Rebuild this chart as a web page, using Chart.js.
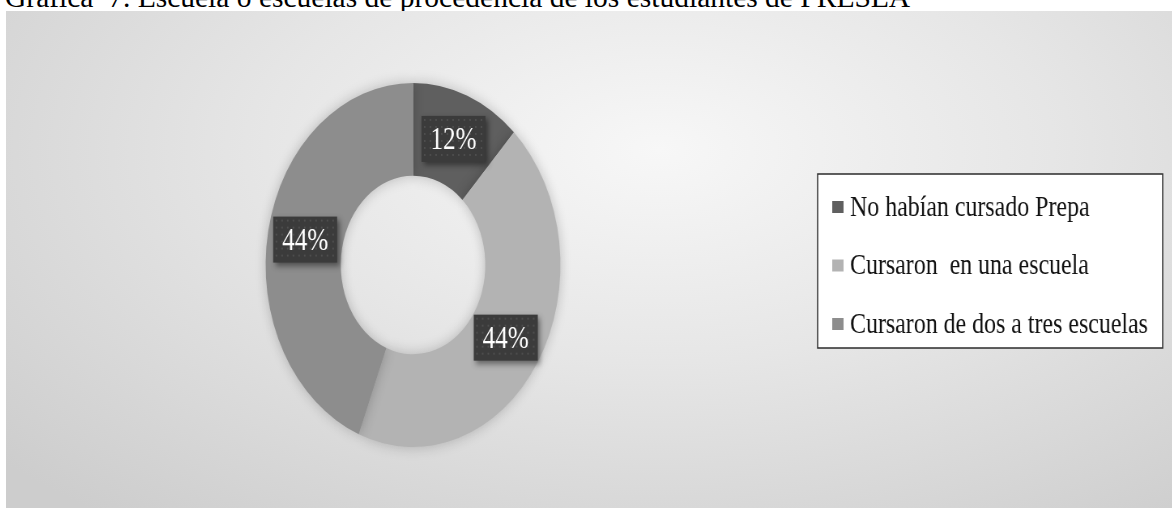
<!DOCTYPE html>
<html>
<head>
<meta charset="utf-8">
<script src="https://cdn.jsdelivr.net/npm/chart.js@4"></script>
<style>
  body { margin: 0; background: #fff; width: 1172px; height: 508px; overflow: hidden; position: relative; }
  #titulo {
    position: absolute; left: 5px; top: -17px; line-height: 1;
    font-family: "Liberation Serif", "Times New Roman", serif; font-size: 29.5px;
    color: #000; white-space: pre;
  }
  #fondo {
    position: absolute; left: 6px; top: 11px; width: 1166px; height: 497px; overflow: hidden;
    background: radial-gradient(ellipse 75% 95% at 56% 28%, #f7f7f7 0%, #e6e6e6 45%, #cdcdcd 100%);
  }
  /* la grafica original esta comprimida a lo ancho, por eso el scaleX */
  #caja {
    position: absolute; left: 0; top: 0; width: 1440px; height: 497px;
    transform: scaleX(0.81); transform-origin: 0 0;
  }
</style>
</head>
<body>
<div id="titulo">Grafica  7. Escuela o escuelas de procedencia de los estudiantes de PRESEA</div>
<div id="fondo">
  <div id="caja"><canvas id="dona"></canvas></div>
</div>

<script>
// ------------- Datos de la grafica -------------
const categorias = ['No habían cursado Prepa', 'Cursaron  en una escuela', 'Cursaron de dos a tres escuelas'];
const porcentajes = [12, 44, 44];
const colores = ['#5f5f5f', '#b3b3b3', '#8d8d8d'];

const fuente = '"Liberation Serif", "Times New Roman", serif';

// Plugin para las etiquetas oscuras con el porcentaje
const etiquetasPlugin = {
  id: 'etiquetas',
  afterDatasetsDraw(chart) {
    const ctx = chart.ctx;
    const meta = chart.getDatasetMeta(0);
    meta.data.forEach((arco, i) => {
      const pos = arco.tooltipPosition();
      const w = 79, h = 46;
      const x0 = pos.x - w / 2, y0 = pos.y - h / 2;

      ctx.save();
      ctx.shadowColor = 'rgba(0,0,0,0.45)';
      ctx.shadowBlur = 6;
      ctx.shadowOffsetX = 3;
      ctx.shadowOffsetY = 3;
      ctx.fillStyle = '#3b3b3b';
      ctx.fillRect(x0, y0, w, h);
      ctx.restore();

      // puntitos de la textura
      ctx.fillStyle = 'rgba(255,255,255,0.10)';
      for (let x = x0 + 3; x < x0 + w - 1; x += 7) {
        for (let y = y0 + 3; y < y0 + h - 1; y += 7) {
          ctx.fillRect(x, y, 2, 2);
        }
      }

      ctx.fillStyle = '#ffffff';
      ctx.font = '31px ' + fuente;
      ctx.textAlign = 'center';
      ctx.textBaseline = 'middle';
      ctx.fillText(porcentajes[i] + '%', pos.x, pos.y + 2);
    });
  }
};

// Plugin para la leyenda con recuadro blanco
const leyendaPlugin = {
  id: 'leyendaCaja',
  afterDraw(chart) {
    const ctx = chart.ctx;
    const bx = 1002, by = 163, bw = 426, bh = 174;
    ctx.save();
    ctx.fillStyle = '#ffffff';
    ctx.fillRect(bx, by, bw, bh);
    ctx.strokeStyle = '#2b2b2b';
    ctx.lineWidth = 1.5;
    ctx.strokeRect(bx, by, bw, bh);

    ctx.font = '29.5px ' + fuente;
    ctx.textAlign = 'left';
    ctx.textBaseline = 'middle';
    const fondoColores = chart.data.datasets[0].backgroundColor;
    chart.data.labels.forEach((txt, i) => {
      const cy = by + 34 + i * 58.5;
      ctx.fillStyle = fondoColores[i];
      ctx.fillRect(bx + 18, cy - 7, 14, 12);
      ctx.fillStyle = '#111111';
      ctx.fillText(txt, bx + 40, cy);
    });
    ctx.restore();
  }
};

// Sombra suave alrededor de la dona
const sombraPlugin = {
  id: 'sombra',
  beforeDatasetsDraw(chart) {
    chart.ctx.save();
    chart.ctx.shadowColor = 'rgba(0,0,0,0.22)';
    chart.ctx.shadowBlur = 14;
  },
  afterDatasetsDraw(chart) {
    chart.ctx.restore();
  }
};

const data = {
  labels: categorias,
  datasets: [{
    data: porcentajes,
    backgroundColor: colores,
    borderWidth: 0,
  }],
};

const config = {
  type: 'doughnut',
  data: data,
  options: {
    responsive: true,
    maintainAspectRatio: false,
    animation: false,
    cutout: '49%',
    layout: {
      padding: { top: 72, bottom: 61, left: 0, right: 435 }
    },
    plugins: {
      legend: { display: false },
      tooltip: { enabled: false },
    },
  },
  plugins: [sombraPlugin, etiquetasPlugin, leyendaPlugin],
};

new Chart(document.getElementById('dona'), config);
</script>
</body>
</html>
